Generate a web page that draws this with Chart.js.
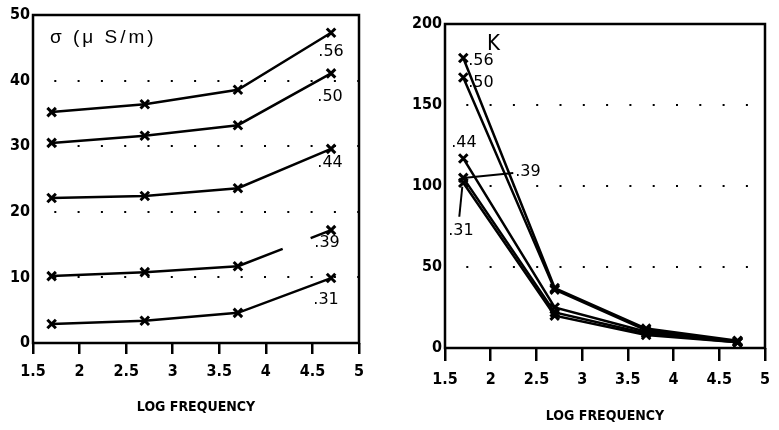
<!DOCTYPE html>
<html>
<head>
<meta charset="utf-8">
<script src="https://cdn.jsdelivr.net/npm/chart.js@4.4.1/dist/chart.umd.min.js"></script>
<style>
  body { margin: 0; background: #fff; }
  .box { position: absolute; top: 0; height: 430px; }
  #left { left: 0; width: 390px; }
  #right { left: 390px; width: 389px; }
</style>
</head>
<body>
<div class="box" id="left"><canvas id="sigmaChart"></canvas></div>
<div class="box" id="right"><canvas id="kChart"></canvas></div>
<script>
// log frequency of the four measurements
const logFreq = [1.7, 2.7, 3.7, 4.7];
const seriesNames = ['.31', '.39', '.44', '.50', '.56'];

// conductivity sigma (uS/m)
const sigma31 = [2.9, 3.4, 4.6, 9.9];
const sigma39 = [10.2, 10.8, 11.7, 17.2];
const sigma44 = [22.1, 22.4, 23.6, 29.6];
const sigma50 = [30.5, 31.6, 33.2, 41.1];
const sigma56 = [35.2, 36.4, 38.6, 47.3];

// dielectric constant K
const k31 = [102, 20, 8, 3.5];
const k39 = [105, 22, 9, 3.5];
const k44 = [117, 25, 10, 4];
const k50 = [167, 36, 11, 4];
const k56 = [179, 37, 12, 4.5];

const xTicks = [1.5, 2, 2.5, 3, 3.5, 4, 4.5, 5];
const sigmaTicks = [0, 10, 20, 30, 40, 50];
const kTicks = [0, 50, 100, 150, 200];

const panelDecor = {
  id: 'panelDecor',
  afterDraw(chart, args, opts) {
    const { ctx, chartArea: a } = chart;
    ctx.save();
    ctx.strokeStyle = '#000';
    ctx.fillStyle = '#000';
    ctx.lineWidth = 2.5;
    ctx.strokeRect(a.left, a.top, a.right - a.left, a.bottom - a.top);

    ctx.font = opts.headingFont;
    ctx.letterSpacing = opts.headingSpacing;
    ctx.textAlign = 'left';
    ctx.textBaseline = 'alphabetic';
    ctx.fillText(opts.heading, a.left + opts.headingX, a.top + opts.headingY);
    ctx.letterSpacing = '0px';

    ctx.font = '16px "DejaVu Sans"';
    ctx.textBaseline = 'middle';
    ctx.lineWidth = 2;
    opts.tags.forEach(t => {
      const p = chart.getDatasetMeta(t.ds).data[t.idx];
      if (t.leader) {
        ctx.beginPath();
        ctx.moveTo(p.x + t.leader[0], p.y + t.leader[1]);
        ctx.lineTo(p.x + t.leader[2], p.y + t.leader[3]);
        ctx.stroke();
      }
      ctx.textAlign = t.align;
      ctx.fillText(chart.data.datasets[t.ds].label, p.x + t.dx, p.y + t.dy);
    });
    ctx.restore();
  }
};

function lineSet(label, values, extra) {
  return Object.assign({
    label: label,
    data: values.map((v, i) => ({ x: logFreq[i], y: v })),
    borderColor: '#000',
    backgroundColor: '#000',
    borderWidth: 2.5,
    pointStyle: 'crossRot',
    pointRadius: 6,
    pointBorderWidth: 3,
    tension: 0,
    fill: false
  }, extra || {});
}

function makePanel(id, datasets, yTicks, box, decor) {
  const yMax = yTicks[yTicks.length - 1];
  return new Chart(id, {
    type: 'line',
    data: { datasets: datasets },
    plugins: [panelDecor],
    options: {
      responsive: true,
      maintainAspectRatio: false,
      animation: false,
      layout: { padding: { top: box.top, right: box.right, left: 0, bottom: 0 } },
      plugins: {
        legend: { display: false },
        tooltip: { enabled: false },
        panelDecor: decor
      },
      scales: {
        x: {
          type: 'linear',
          min: 1.5,
          max: 5,
          afterBuildTicks: s => { s.ticks = xTicks.map(v => ({ value: v })); },
          afterFit: s => { s.height = box.xHeight; },
          border: { display: false },
          grid: { drawOnChartArea: false, drawTicks: true, tickLength: box.tickLen, color: '#000', lineWidth: 2.5 },
          ticks: {
            color: '#000',
            padding: box.tickPad,
            maxRotation: 0,
            font: { family: '"DejaVu Sans Condensed"', size: 16, weight: 'bold' },
            callback: v => String(v)
          },
          title: {
            display: true,
            text: 'LOG FREQUENCY',
            color: '#000',
            font: { family: '"DejaVu Sans Condensed"', size: 14, weight: 'bold' },
            padding: { top: 0, bottom: box.titlePad }
          }
        },
        y: {
          min: 0,
          max: yMax,
          afterBuildTicks: s => { s.ticks = yTicks.map(v => ({ value: v })); },
          afterFit: s => { s.width = box.yWidth; },
          border: { display: false, dash: [2, 21.3], dashOffset: 2 },
          grid: {
            drawTicks: false,
            tickLength: 0,
            lineWidth: 2,
            color: c => (c.tick && (c.tick.value === 0 || c.tick.value === yMax)) ? 'rgba(0,0,0,0)' : '#000'
          },
          ticks: {
            color: '#000',
            padding: 3,
            font: { family: '"DejaVu Sans Condensed"', size: 16, weight: 'bold' }
          }
        }
      }
    }
  });
}

makePanel('sigmaChart', [
  lineSet(seriesNames[0], sigma31),
  lineSet(seriesNames[1], sigma39, {
    segment: { borderDash: c => c.p0DataIndex === 2 ? [48, 30, 100] : undefined }
  }),
  lineSet(seriesNames[2], sigma44),
  lineSet(seriesNames[3], sigma50),
  lineSet(seriesNames[4], sigma56)
], sigmaTicks,
{ top: 15, right: 31, yWidth: 33, xHeight: 87, tickLen: 11, tickPad: 8, titlePad: 14 },
{
  heading: 'σ (μ S/m)',
  headingFont: '19px "Liberation Sans"',
  headingSpacing: '3px',
  headingX: 17,
  headingY: 28,
  tags: [
    { ds: 0, idx: 3, dx: -5, dy: 22, align: 'center' },
    { ds: 1, idx: 3, dx: -4, dy: 13, align: 'center' },
    { ds: 2, idx: 3, dx: -1, dy: 14, align: 'center' },
    { ds: 3, idx: 3, dx: -1, dy: 23, align: 'center' },
    { ds: 4, idx: 3, dx: 0, dy: 19, align: 'center' }
  ]
});

makePanel('kChart', [
  lineSet(seriesNames[0], k31),
  lineSet(seriesNames[1], k39),
  lineSet(seriesNames[2], k44),
  lineSet(seriesNames[3], k50),
  lineSet(seriesNames[4], k56)
], kTicks,
{ top: 24, right: 7, yWidth: 55, xHeight: 82, tickLen: 13, tickPad: 9, titlePad: 5 },
{
  heading: 'K',
  headingFont: '22px "DejaVu Sans Condensed"',
  headingSpacing: '0px',
  headingX: 42,
  headingY: 26,
  tags: [
    { ds: 0, idx: 0, dx: -15, dy: 48, align: 'left', leader: [-1, 4, -4, 34] },
    { ds: 1, idx: 0, dx: 52, dy: -6, align: 'left', leader: [0, 0, 50, -5] },
    { ds: 2, idx: 0, dx: -12, dy: -16, align: 'left' },
    { ds: 3, idx: 0, dx: 5, dy: 5, align: 'left' },
    { ds: 4, idx: 0, dx: 5, dy: 3, align: 'left' }
  ]
});
</script>
</body>
</html>
